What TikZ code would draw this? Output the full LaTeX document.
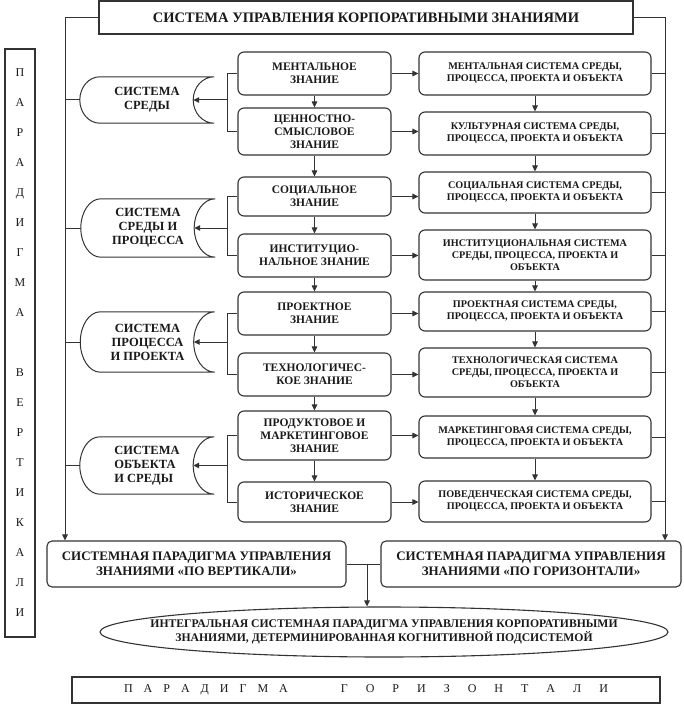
\documentclass[tikz,border=0pt]{standalone}
\usepackage{fontspec}
\setmainfont{Liberation Serif}
\usetikzlibrary{arrows.meta,calc,shapes.geometric}
\definecolor{ink}{gray}{0.1}
\definecolor{lin}{gray}{0.2}
\newcommand\SysOutline[1]{%
  \draw[conn] ($(#1.north west)+(20,0)$) -- (#1.north east)
    .. controls ($(#1.north east)+(-11.6,0)$) and ($(#1.east)!0.552!(#1.north east)+(-21,0)$) .. ($(#1.east)+(-21,0)$)
    .. controls ($(#1.east)!0.552!(#1.south east)+(-21,0)$) and ($(#1.south east)+(-11.6,0)$) .. (#1.south east)
    -- ($(#1.south west)+(20,0)$)
    .. controls ($(#1.south west)+(8.96,0)$) and ($(#1.west)!0.552!(#1.south west)$) .. (#1.west)
    .. controls ($(#1.west)!0.552!(#1.north west)$) and ($(#1.north west)+(8.96,0)$) .. ($(#1.north west)+(20,0)$);
  \coordinate (#1in) at ($(#1.east)+(-21,0)$);
}
\begin{document}
\begin{tikzpicture}[x=1pt,y=-1pt,
  conn/.style={draw=lin, line width=1pt},
  arr/.style={conn, -{Triangle[length=6pt,width=5.5pt]}},
  mbox/.style={draw=lin, line width=1.1pt, rounded corners=6pt, minimum width=153pt, inner sep=0pt, align=center, text=ink, font=\bfseries\fontsize{11.5}{13}\selectfont},
  rbox/.style={draw=lin, line width=1.1pt, rounded corners=6pt, minimum width=232pt, inner sep=0pt, align=center, text=ink, font=\bfseries\fontsize{10.2}{12}\selectfont},
  sbox/.style={minimum width=134pt, inner sep=0pt, align=center, text=ink, font=\bfseries\fontsize{12.5}{14}\selectfont},
  pbox/.style={draw=lin, line width=1.1pt, rounded corners=5pt, minimum width=300pt, minimum height=46pt, inner sep=0pt, align=center, text=ink, font=\bfseries\fontsize{13}{14.5}\selectfont}
]
\useasboundingbox (0,0) rectangle (683,719);

% title
\node[draw=lin, line width=1.3pt, minimum width=534pt, minimum height=33pt, inner sep=0pt, text=ink, font=\bfseries\fontsize{14.5}{16}\selectfont] (title) at (366,17.5) {СИСТЕМА УПРАВЛЕНИЯ КОРПОРАТИВНЫМИ ЗНАНИЯМИ};

% vertical paradigm box
\node[draw=lin, line width=1.1pt, minimum width=30pt, minimum height=588pt, inner sep=0pt, align=center, text=ink, font=\fontsize{12}{30}\selectfont] (pv) at (20,343)
 {П\\А\\Р\\А\\Д\\И\\Г\\М\\А\\[30pt]В\\Е\\Р\\Т\\И\\К\\А\\Л\\И};

% middle column
\node[mbox, minimum height=43pt] (m1) at (314.5,73.5) {МЕНТАЛЬНОЕ\\ЗНАНИЕ};
\node[mbox, minimum height=47pt] (m2) at (314.5,131.5) {ЦЕННОСТНО-\\СМЫСЛОВОЕ\\ЗНАНИЕ};
\node[mbox, minimum height=39pt] (m3) at (314.5,196.5) {СОЦИАЛЬНОЕ\\ЗНАНИЕ};
\node[mbox, minimum height=43pt] (m4) at (314.5,255.5) {ИНСТИТУЦИО-\\НАЛЬНОЕ ЗНАНИЕ};
\node[mbox, minimum height=43pt] (m5) at (314.5,313.5) {ПРОЕКТНОЕ\\ЗНАНИЕ};
\node[mbox, minimum height=43pt] (m6) at (314.5,374.5) {ТЕХНОЛОГИЧЕС-\\КОЕ ЗНАНИЕ};
\node[mbox, minimum height=49pt] (m7) at (314.5,435.5) {ПРОДУКТОВОЕ И\\МАРКЕТИНГОВОЕ\\ЗНАНИЕ};
\node[mbox, minimum height=40pt] (m8) at (314.5,502) {ИСТОРИЧЕСКОЕ\\ЗНАНИЕ};

% right column
\node[rbox, minimum height=43pt] (r1) at (535,73.5) {МЕНТАЛЬНАЯ СИСТЕМА СРЕДЫ,\\ПРОЦЕССА, ПРОЕКТА И ОБЪЕКТА};
\node[rbox, minimum height=43pt] (r2) at (535,133.5) {КУЛЬТУРНАЯ СИСТЕМА СРЕДЫ,\\ПРОЦЕССА, ПРОЕКТА И ОБЪЕКТА};
\node[rbox, minimum height=41pt] (r3) at (535,192.5) {СОЦИАЛЬНАЯ СИСТЕМА СРЕДЫ,\\ПРОЦЕССА, ПРОЕКТА И ОБЪЕКТА};
\node[rbox, minimum height=50pt] (r4) at (535,255) {ИНСТИТУЦИОНАЛЬНАЯ СИСТЕМА\\СРЕДЫ, ПРОЦЕССА, ПРОЕКТА И\\ОБЪЕКТА};
\node[rbox, minimum height=39pt] (r5) at (535,311.5) {ПРОЕКТНАЯ СИСТЕМА СРЕДЫ,\\ПРОЦЕССА, ПРОЕКТА И ОБЪЕКТА};
\node[rbox, minimum height=49pt] (r6) at (535,372.5) {ТЕХНОЛОГИЧЕСКАЯ СИСТЕМА\\СРЕДЫ, ПРОЦЕССА, ПРОЕКТА И\\ОБЪЕКТА};
\node[rbox, minimum height=42pt] (r7) at (535,437) {МАРКЕТИНГОВАЯ СИСТЕМА СРЕДЫ,\\ПРОЦЕССА, ПРОЕКТА И ОБЪЕКТА};
\node[rbox, minimum height=41pt] (r8) at (535,501.5) {ПОВЕДЕНЧЕСКАЯ СИСТЕМА СРЕДЫ,\\ПРОЦЕССА, ПРОЕКТА И ОБЪЕКТА};

% system shapes
\node[sbox, minimum height=46pt] (s1) at (147,100) {СИСТЕМА\\СРЕДЫ};
\node[sbox, minimum height=58pt] (s2) at (148,228) {СИСТЕМА\\СРЕДЫ И\\ПРОЦЕССА};
\node[sbox, minimum height=60pt] (s3) at (147.5,342) {СИСТЕМА\\ПРОЦЕССА\\И ПРОЕКТА};
\node[sbox, minimum height=57pt, align=left] (s4) at (147,465.5) {СИСТЕМА\\ОБЪЕКТА\\И СРЕДЫ};
\SysOutline{s1}
\SysOutline{s2}
\SysOutline{s3}
\SysOutline{s4}

% bottom boxes
\node[pbox, minimum width=299pt] (bl) at (196.5,564) {СИСТЕМНАЯ ПАРАДИГМА УПРАВЛЕНИЯ\\ЗНАНИЯМИ «ПО ВЕРТИКАЛИ»};
\node[pbox] (br) at (531,564) {СИСТЕМНАЯ ПАРАДИГМА УПРАВЛЕНИЯ\\ЗНАНИЯМИ «ПО ГОРИЗОНТАЛИ»};
\node[ellipse, draw=lin, line width=1.1pt, minimum width=568pt, minimum height=50pt, inner sep=0pt] (ell) at (384,632) {};
\node[align=center, inner sep=0pt, text=ink, font=\bfseries\fontsize{11.7}{13.5}\selectfont] (ellt) at (ell.center) {ИНТЕГРАЛЬНАЯ СИСТЕМНАЯ ПАРАДИГМА УПРАВЛЕНИЯ КОРПОРАТИВНЫМИ\\ЗНАНИЯМИ, ДЕТЕРМИНИРОВАННАЯ КОГНИТИВНОЙ ПОДСИСТЕМОЙ};
\node[draw=lin, line width=1.1pt, minimum width=588pt, minimum height=26pt, inner sep=0pt, text=ink, font=\fontsize{12}{14}\selectfont] (ph) at (366,690)
 {П\hspace{11pt}А\hspace{11pt}Р\hspace{11pt}А\hspace{11pt}Д\hspace{11pt}И\hspace{11pt}Г\hspace{11pt}М\hspace{11pt}А\hspace{53pt}Г\hspace{18pt}О\hspace{18pt}Р\hspace{18pt}И\hspace{18pt}З\hspace{18pt}О\hspace{18pt}Н\hspace{18pt}Т\hspace{18pt}А\hspace{18pt}Л\hspace{18pt}И};

% coordinates
\coordinate (lc) at (65,17.5);
\coordinate (rc) at (665,17.5);
\coordinate (bx) at (227,0);
\coordinate (jx) at (367,0);

% title trunks
\draw[arr] (title.west) -- (lc) -- (lc |- bl.north);
\draw[arr] (title.east) -- (rc) -- (rc |- br.north);

% left links to shapes
\foreach \s in {s1,s2,s3,s4} {\draw[conn] (\s.west -| lc) -- (\s.west);}

% brackets
\draw[conn] (m1.west) -- (m1.west -| bx) -- (m2.west -| bx) -- (m2.west);
\draw[conn] (m3.west) -- (m3.west -| bx) -- (m4.west -| bx) -- (m4.west);
\draw[conn] (m5.west) -- (m5.west -| bx) -- (m6.west -| bx) -- (m6.west);
\draw[conn] (m7.west) -- (m7.west -| bx) -- (m8.west -| bx) -- (m8.west);
\draw[arr] (s1.east -| bx) -- (s1in);
\draw[arr] (s2.east -| bx) -- (s2in);
\draw[arr] (s3.east -| bx) -- (s3in);
\draw[arr] (s4.east -| bx) -- (s4in);

% vertical arrows
\foreach \a/\b in {m1/m2,m2/m3,m3/m4,m4/m5,m5/m6,m6/m7,m7/m8,r1/r2,r2/r3,r3/r4,r4/r5,r5/r6,r6/r7,r7/r8}
  {\draw[arr] (\a.south) -- (\b.north);}

% horizontal arrows
\foreach \i in {1,...,8} {\draw[arr] (m\i.east) -- (m\i.east -| r\i.west);}

% right links
\foreach \i in {1,...,8} {\draw[conn] (r\i.east) -- (r\i.east -| rc);}

% bottom junction
\draw[conn] (bl.east) -- (br.west);
\draw[arr] (bl.east -| jx) -- (jx |- ell.north);
\end{tikzpicture}
\end{document}
